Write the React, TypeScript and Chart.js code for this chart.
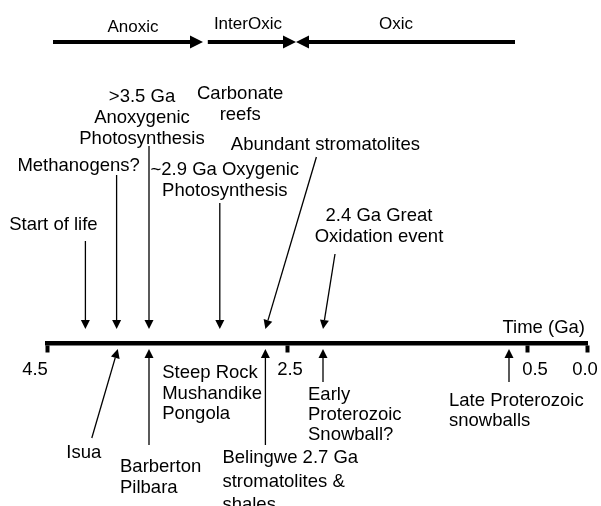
import React, { useEffect, useRef } from "react";
import { Chart, registerables } from "chart.js";

Chart.register(...registerables);

// ---------- data ----------
const tickValues = [4.5, 2.5, 0.5, 0.0];
const tickLabels = ["4.5", "2.5", "0.5", "0.0"];
const axisTitle = "Time (Ga)";

const periodNames = ["Anoxic", "InterOxic", "Oxic"];
const periodFrom = [4.45, 3.16, 0.6];
const periodTo = [3.2, 2.425, 2.425];

const aboveTexts = [
  ["Start of life"],
  ["Methanogens?"],
  [">3.5 Ga", "Anoxygenic", "Photosynthesis"],
  ["~2.9 Ga Oxygenic", "Photosynthesis"],
  ["Abundant stromatolites"],
  ["2.4 Ga Great", "Oxidation event"],
];
const aboveAges = [4.18, 3.92, 3.65, 3.06, 2.68, 2.2];

const belowTexts = [
  ["Isua"],
  ["Barberton", "Pilbara"],
  ["Belingwe 2.7 Ga", "stromatolites &", "shales"],
  ["Early", "Proterozoic", "Snowball?"],
  ["Late Proterozoic", "snowballs"],
];
const belowAges = [3.91, 3.65, 2.68, 2.2, 0.65];

const noteTexts = [
  ["Carbonate", "reefs"],
  ["Steep Rock", "Mushandike", "Pongola"],
];
const noteAges = [2.89, 3.54];

// ---------- layout (pixels) ----------
const AXIS_Y = 343;
const ABOVE_TIP_Y = 329;
const BELOW_TIP_Y = 349;
const PERIOD_Y = 42;
const FONT = '"Liberation Sans", Arial, Helvetica, sans-serif';

const aboveLayout = [
  { tailDx: 0, tailY: 241, textDx: -32, align: "center", base: [230] },
  { tailDx: 0, tailY: 175, textDx: -38, align: "center", base: [171] },
  { tailDx: 0, tailY: 146, textDx: -7, align: "center", base: [102, 123, 144] },
  { tailDx: 0, tailY: 203, textDx: 5, align: "center", base: [175, 196] },
  { tailDx: 51, tailY: 157, textDx: 60, align: "center", base: [150] },
  { tailDx: 12, tailY: 254, textDx: 56, align: "center", base: [221, 242] },
];
const belowLayout = [
  { tailDx: -26, tailY: 438, textDx: -34, align: "center", base: [458] },
  { tailDx: 0, tailY: 445, textDx: -29, align: "left", base: [472, 493] },
  { tailDx: 0, tailY: 445, textDx: -43, align: "left", base: [463, 487, 510] },
  { tailDx: 0, tailY: 382, textDx: -15, align: "left", base: [400, 420, 440] },
  { tailDx: 0, tailY: 382, textDx: -60, align: "left", base: [406, 426] },
];
const noteLayout = [
  { align: "center", base: [99, 120] },
  { align: "left", base: [378, 399, 419] },
];
const periodLabelLayout = [
  { dx: 5, base: 32 },
  { dx: -4, base: 29 },
  { dx: -9.5, base: 29 },
];
const tickLabelDx = [-12, 3, 8, -2];
const TICK_LABEL_BASE = 375;

function arrow(
  ctx: CanvasRenderingContext2D,
  x1: number, y1: number, x2: number, y2: number,
  lw: number, headLen: number, headHalf: number
) {
  const ang = Math.atan2(y2 - y1, x2 - x1);
  const bx = x2 - Math.cos(ang) * headLen;
  const by = y2 - Math.sin(ang) * headLen;
  ctx.save();
  ctx.strokeStyle = "#000";
  ctx.fillStyle = "#000";
  ctx.lineWidth = lw;
  ctx.beginPath();
  ctx.moveTo(x1, y1);
  ctx.lineTo(bx, by);
  ctx.stroke();
  ctx.beginPath();
  ctx.moveTo(x2, y2);
  ctx.lineTo(bx + Math.sin(ang) * headHalf, by - Math.cos(ang) * headHalf);
  ctx.lineTo(bx - Math.sin(ang) * headHalf, by + Math.cos(ang) * headHalf);
  ctx.closePath();
  ctx.fill();
  ctx.restore();
}

const timelinePlugin = {
  id: "timeline",
  afterDraw(chart: any) {
    const ctx: CanvasRenderingContext2D = chart.ctx;
    const xs = chart.scales.x;
    const ys = chart.scales.y;
    const px = (v: number) => xs.getPixelForValue(v);
    const py = (v: number) => ys.getPixelForValue(v);
    ctx.save();
    ctx.fillStyle = "#000";
    ctx.textBaseline = "alphabetic";

    // period arrows
    ctx.font = `17px ${FONT}`;
    ctx.textAlign = "center";
    periodNames.forEach((name, i) => {
      const a = px(periodFrom[i]);
      const b = px(periodTo[i]);
      arrow(ctx, a, py(PERIOD_Y), b, py(PERIOD_Y), 3.8, 13, 6.5);
      const l = periodLabelLayout[i];
      ctx.fillText(name, (a + b) / 2 + l.dx, py(l.base));
    });

    ctx.font = `18.5px ${FONT}`;

    // events above the axis
    aboveAges.forEach((age, i) => {
      const L = aboveLayout[i];
      const x = px(age);
      arrow(ctx, x + L.tailDx, py(L.tailY), x, py(ABOVE_TIP_Y), 1.3, 9, 4.5);
      ctx.textAlign = L.align as CanvasTextAlign;
      aboveTexts[i].forEach((t, j) => ctx.fillText(t, x + L.textDx, py(L.base[j])));
    });

    // events below the axis
    belowAges.forEach((age, i) => {
      const L = belowLayout[i];
      const x = px(age);
      arrow(ctx, x + L.tailDx, py(L.tailY), x, py(BELOW_TIP_Y), 1.3, 9, 4.5);
      ctx.textAlign = L.align as CanvasTextAlign;
      belowTexts[i].forEach((t, j) => ctx.fillText(t, x + L.textDx, py(L.base[j])));
    });

    // notes
    noteAges.forEach((age, i) => {
      const L = noteLayout[i];
      ctx.textAlign = L.align as CanvasTextAlign;
      noteTexts[i].forEach((t, j) => ctx.fillText(t, px(age), py(L.base[j])));
    });

    // tick labels
    ctx.textAlign = "center";
    tickValues.forEach((v, i) => {
      ctx.fillText(tickLabels[i], px(v) + tickLabelDx[i], py(TICK_LABEL_BASE));
    });

    // axis title
    ctx.textAlign = "right";
    ctx.fillText(axisTitle, xs.right - 2, py(333));
    ctx.restore();
  },
};

export default function App() {
  const canvasRef = useRef<HTMLCanvasElement | null>(null);

  useEffect(() => {
    const canvas = canvasRef.current;
    if (!canvas) return;
    const chart = new Chart(canvas, {
      type: "scatter",
      data: { datasets: [] },
      options: {
        animation: false,
        responsive: false,
        devicePixelRatio: 1,
        layout: { padding: { left: 47, right: 14, top: 0, bottom: 0 } },
        plugins: { legend: { display: false }, tooltip: { enabled: false } },
        scales: {
          x: {
            type: "linear",
            min: 0,
            max: 4.5,
            reverse: true,
            position: { y: AXIS_Y } as any,
            afterBuildTicks: (scale: any) => {
              scale.ticks = tickValues.map((v) => ({ value: v }));
            },
            ticks: { display: false },
            grid: {
              display: true,
              drawOnChartArea: false,
              drawTicks: true,
              tickLength: 7,
              tickWidth: 4,
              tickColor: "#000",
            },
            border: { display: true, width: 4.5, color: "#000" },
          },
          y: {
            type: "linear",
            min: 0,
            max: 506,
            reverse: true,
            display: false,
          },
        },
      },
      plugins: [timelinePlugin],
    });
    return () => chart.destroy();
  }, []);

  return (
    <div style={{ position: "fixed", left: 0, top: 0, width: 601, height: 506, background: "#fff" }}>
      <canvas ref={canvasRef} width={601} height={506} style={{ display: "block" }} />
    </div>
  );
}
